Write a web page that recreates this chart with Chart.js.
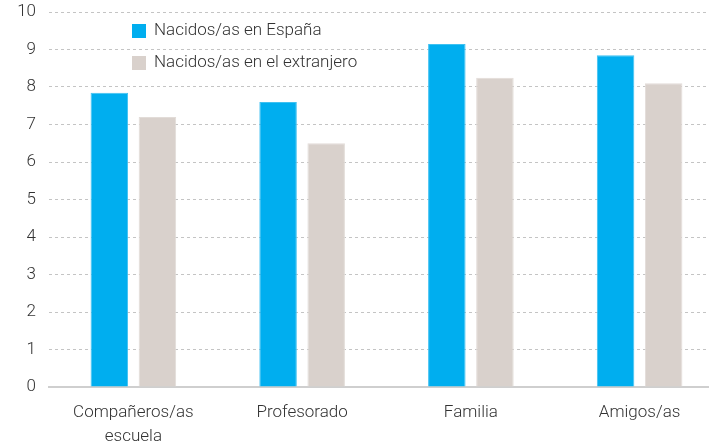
<!DOCTYPE html>
<html>
<head>
<meta charset="utf-8">
<script src="https://cdn.jsdelivr.net/npm/chart.js@4"></script>
<style>
  html, body { margin: 0; padding: 0; background: #fff; overflow: hidden; }
  #wrap { width: 709px; height: 446px; overflow: hidden; }
</style>
</head>
<body>
<div id="wrap"><canvas id="chart" width="724" height="446"></canvas></div>
<script>
// Data
const categories = [['Compañeros/as', 'escuela'], 'Profesorado', 'Familia', 'Amigos/as'];
const seriesNames = ['Nacidos/as en España', 'Nacidos/as en el extranjero'];
const espana = [7.85, 7.6, 9.15, 8.85];
const extranjero = [7.2, 6.5, 8.25, 8.1];
const yTicks = [0, 1, 2, 3, 4, 5, 6, 7, 8, 9, 10];

const fontFamily = 'Roboto, "Liberation Sans", sans-serif';

// Legend drawn inside the plot, stacked vertically
const insideLegend = {
    id: 'insideLegend',
    afterDraw(chart) {
        const ctx = chart.ctx;
        ctx.save();
        ctx.font = '300 17px ' + fontFamily;
        ctx.textBaseline = 'middle';
        chart.data.datasets.forEach((ds, i) => {
            const y = 31 + i * 32;
            ctx.fillStyle = ds.backgroundColor;
            ctx.fillRect(132, y - 7, 14, 14);
            ctx.fillStyle = '#333';
            ctx.fillText(ds.label, 154, y);
        });
        ctx.restore();
    }
};

new Chart(document.getElementById('chart'), {
    type: 'bar',
    data: {
        labels: categories,
        datasets: [
            {
                label: seriesNames[0],
                data: espana,
                backgroundColor: '#00aeef',
                borderColor: '#3fc1f1',
                borderWidth: { top: 1, left: 1, right: 1, bottom: 0 },
                barPercentage: 0.78,
                categoryPercentage: 0.57
            },
            {
                label: seriesNames[1],
                data: extranjero,
                backgroundColor: '#d9d1cc',
                borderColor: '#e2dcd8',
                borderWidth: { top: 1, left: 1, right: 1, bottom: 0 },
                barPercentage: 0.78,
                categoryPercentage: 0.57
            }
        ]
    },
    options: {
        responsive: false,
        animation: false,
        layout: { padding: { top: 12, right: 0, left: 0, bottom: 0 } },
        plugins: {
            legend: { display: false },
            tooltip: { enabled: false }
        },
        scales: {
            x: {
                grid: { display: false },
                border: { display: true, color: '#cfcfcf', width: 2 },
                ticks: {
                    color: '#333',
                    font: { family: fontFamily, size: 17, weight: '300', lineHeight: 1.45 },
                    padding: 5,
                    maxRotation: 0,
                    autoSkip: false
                },
                afterFit(scale) { scale.height = 59; }
            },
            y: {
                min: 0,
                max: 10,
                afterBuildTicks(scale) { scale.ticks = yTicks.map(v => ({ value: v })); },
                grid: {
                    color: '#c4c4c4',
                    lineWidth: 1,
                    drawTicks: false
                },
                border: { display: false, dash: [3, 3] },
                ticks: {
                    color: '#333',
                    font: { family: fontFamily, size: 17, weight: '300' },
                    padding: 13
                },
                afterFit(scale) {
                    scale.width = 49;
                    scale.paddingTop = 0;
                    scale.paddingBottom = 0;
                }
            }
        }
    },
    plugins: [insideLegend]
});
</script>
</body>
</html>
